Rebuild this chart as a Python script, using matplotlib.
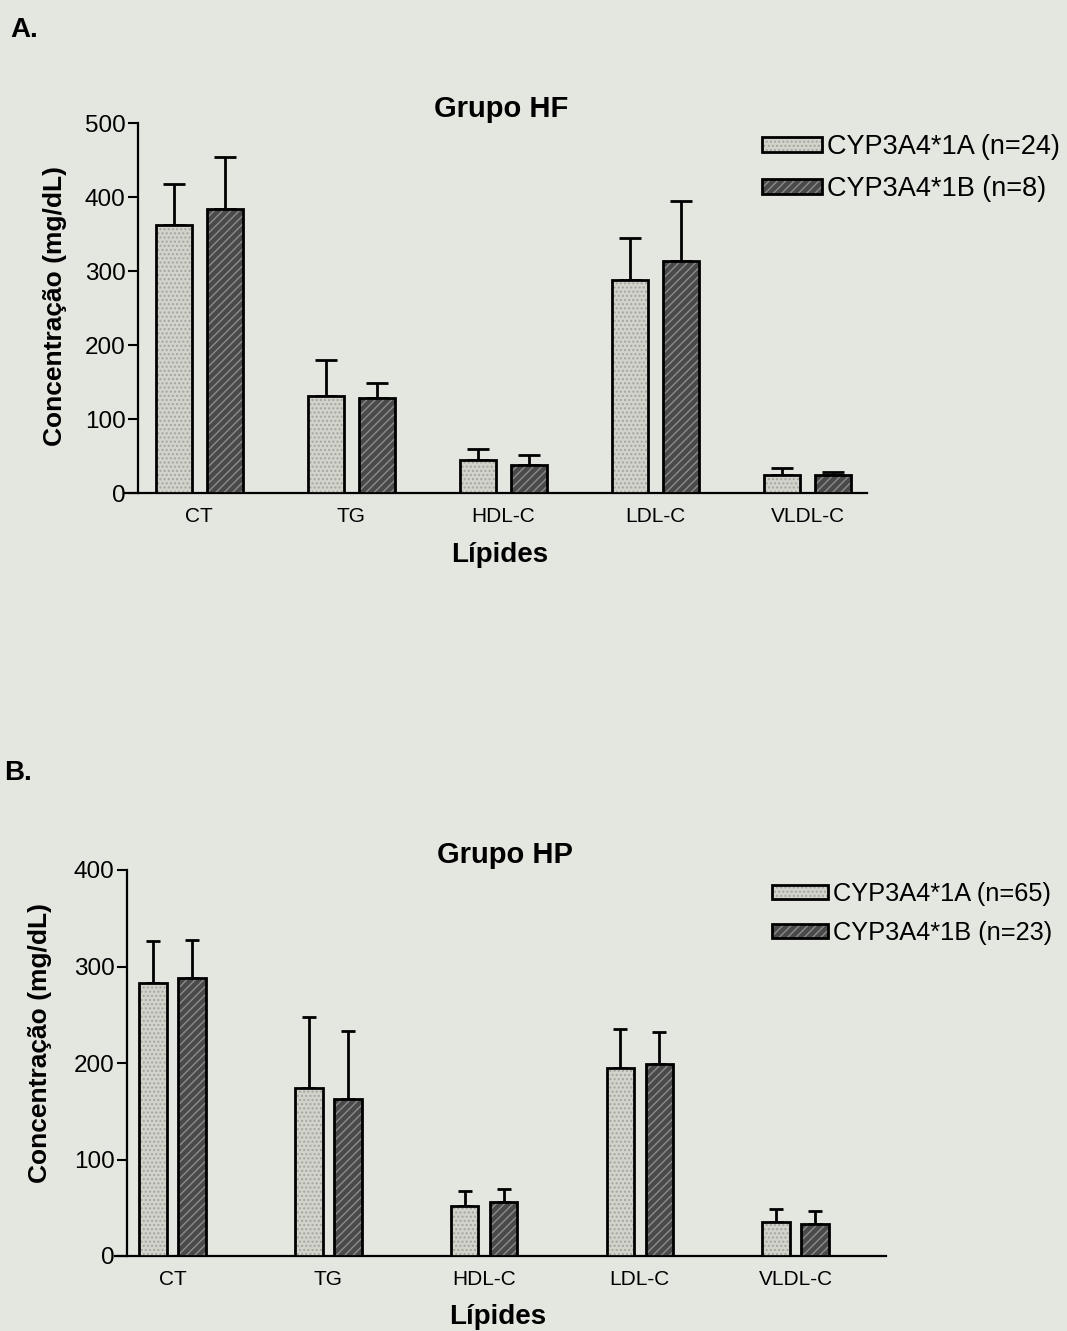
import numpy as np
import matplotlib
matplotlib.use("Agg")
import matplotlib.pyplot as plt

# Data (mean and top of SD bar, mg/dL)
lipids = ["CT", "TG", "HDL-C", "LDL-C", "VLDL-C"]

hf_mean_1a = [362, 131, 44, 288, 25]
hf_cap_1a = [417, 180, 60, 345, 34]
hf_mean_1b = [384, 129, 38, 314, 24]
hf_cap_1b = [454, 148, 51, 394, 28]
hf_labels = ["CYP3A4*1A (n=24)", "CYP3A4*1B (n=8)"]

hp_mean_1a = [283, 174, 52, 195, 35]
hp_cap_1a = [326, 248, 67, 235, 49]
hp_mean_1b = [288, 163, 56, 199, 33]
hp_cap_1b = [327, 233, 69, 232, 47]
hp_labels = ["CYP3A4*1A (n=65)", "CYP3A4*1B (n=23)"]

W, H = 1067, 1331
BG = "#e4e6e0"
LIGHT_FACE, LIGHT_HATCH = "#d2d4cc", "#a3a59f"
DARK_FACE, DARK_HATCH = "#4a4a4a", "#8c8c8c"

plt.rcParams["font.family"] = ["Liberation Sans", "DejaVu Sans"]
plt.rcParams["hatch.linewidth"] = 1.0

fig = plt.figure(figsize=(W / 100, H / 100), dpi=100, facecolor=BG)


def px_axes(x0, x1, y0, y1):
    # y0 = top pixel, y1 = bottom pixel
    return fig.add_axes([x0 / W, 1 - y1 / H, (x1 - x0) / W, (y1 - y0) / H])


def draw_panel(ax, means_a, caps_a, means_b, caps_b, labels, ymax, xlim,
               spine_x, width, offset, capsize, title, title_xy, xlab_xy,
               ylab_xy, legend_anchor, legend_size):
    ax.set_facecolor("none")
    x = np.arange(len(lipids))
    handles = []
    for means, caps, face, hcol, hatch, sign in [
        (means_a, caps_a, LIGHT_FACE, LIGHT_HATCH, "....", -1),
        (means_b, caps_b, DARK_FACE, DARK_HATCH, "////", 1),
    ]:
        xs = x + sign * offset
        means = np.array(means)
        sd = np.array(caps) - means
        ax.errorbar(xs, means, yerr=[np.zeros_like(sd), sd], fmt="none",
                    ecolor="black", elinewidth=2, capsize=capsize,
                    capthick=2, zorder=2)
        fill = ax.bar(xs, means, width, color=face, edgecolor=hcol,
                      hatch=hatch, linewidth=0, zorder=3)
        outline = ax.bar(xs, means, width, fill=False, edgecolor="black",
                         linewidth=2, zorder=4)
        handles.append((fill[0], outline[0]))

    ax.set_xlim(*xlim)
    ax.set_ylim(0, ymax)
    ax.set_yticks(np.arange(0, ymax + 1, 100))
    ax.set_xticks(x)
    ax.set_xticklabels(lipids)
    ax.spines["top"].set_visible(False)
    ax.spines["right"].set_visible(False)
    ax.spines["left"].set_position(("data", spine_x))
    ax.spines["left"].set_linewidth(1.6)
    ax.spines["bottom"].set_linewidth(1.6)
    ax.tick_params(axis="y", length=7, width=1.5, labelsize=17.5, pad=2)
    ax.tick_params(axis="x", length=0, labelsize=15, pad=10)

    ax.text(*title_xy, title, transform=ax.transAxes, ha="center",
            va="center", fontsize=21, fontweight="bold")
    ax.text(*xlab_xy, "Lípides", transform=ax.transAxes, ha="center",
            va="center", fontsize=20, fontweight="bold")
    ax.text(*ylab_xy, "Concentração (mg/dL)", transform=ax.transAxes,
            ha="center", va="center", rotation=90, fontsize=19,
            fontweight="bold")

    ax.legend(handles, labels, loc="upper left",
              bbox_to_anchor=(legend_anchor[0] / W, 1 - legend_anchor[1] / H),
              bbox_transform=fig.transFigure, frameon=False,
              fontsize=legend_size, borderpad=0, borderaxespad=0,
              handlelength=2.2, handleheight=0.5, handletextpad=0.2,
              labelspacing=0.6)


# Panel A - Grupo HF
ax_a = px_axes(125, 867, 123, 493)
draw_panel(ax_a, hf_mean_1a, hf_cap_1a, hf_mean_1b, hf_cap_1b, hf_labels,
           500, (-0.487, 4.39), -0.40, 0.237, 0.168, 8, "Grupo HF",
           (0.507, 1.038), (0.505, -0.168), (-0.094, 0.505), (762, 134),
           19.5)

# Panel B - Grupo HP
ax_b = px_axes(115, 886, 870, 1256)
draw_panel(ax_b, hp_mean_1a, hp_cap_1a, hp_mean_1b, hp_cap_1b, hp_labels,
           400, (-0.369, 4.58), -0.292, 0.177, 0.125, 5, "Grupo HP",
           (0.506, 1.038), (0.497, -0.158), (-0.097, 0.5525), (772, 882),
           18.3)

fig.text(10 / W, 1 - 30 / H, "A.", fontsize=20, fontweight="bold",
         va="center", ha="left")
fig.text(4 / W, 1 - 773 / H, "B.", fontsize=20, fontweight="bold",
         va="center", ha="left")

fig.savefig("out.png", dpi=100, facecolor=BG)
